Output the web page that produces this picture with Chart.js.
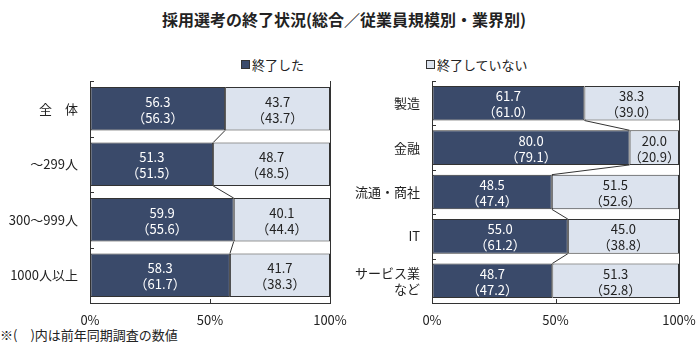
<!DOCTYPE html>
<html>
<head>
<meta charset="utf-8">
<script src="https://cdn.jsdelivr.net/npm/chart.js@4.4.1/dist/chart.umd.min.js"></script>
<style>
  html, body { margin:0; padding:0; background:#fff; }
  body { width:700px; height:356px; position:relative; overflow:hidden;
         font-family:"Noto Sans CJK JP", sans-serif; color:#222; }
  .abs { position:absolute; white-space:nowrap; }
  #title { left:0; width:688px; top:8px; text-align:center; font-size:16px; font-weight:bold; line-height:22px; }
  .leg { top:56px; font-size:13px; line-height:18px; }
  .mk { display:inline-block; width:7px; height:7px; border:1px solid #333; margin-right:2px; vertical-align:1px; }
  #foot { left:0; top:326px; font-size:13px; line-height:18px; }
  canvas { position:absolute; top:0; }
</style>
</head>
<body>
<div id="title" class="abs">採用選考の終了状況(総合／従業員規模別・業界別)</div>
<div class="abs leg" style="left:241px"><span class="mk" style="background:#3a4a6a"></span>終了した</div>
<div class="abs leg" style="left:426px"><span class="mk" style="background:#dce3ee"></span>終了していない</div>
<div id="foot" class="abs">※(　)内は前年同期調査の数値</div>
<canvas id="c1" width="350" height="356" style="left:0"></canvas>
<canvas id="c2" width="350" height="356" style="left:350px"></canvas>
<script>
// ---- data ----
const seriesNames = ['終了した', '終了していない'];
const leftCategories = ['全　体', '～299人', '300～999人', '1000人以上'];
const leftDone = [56.3, 51.3, 59.9, 58.3];
const leftNotDone = [43.7, 48.7, 40.1, 41.7];
const leftDonePrev = [56.3, 51.5, 55.6, 61.7];
const leftNotDonePrev = [43.7, 48.5, 44.4, 38.3];

const rightCategories = ['製造', '金融', '流通・商社', 'IT', ['サービス業', 'など']];
const rightDone = [61.7, 80.0, 48.5, 55.0, 48.7];
const rightNotDone = [38.3, 20.0, 51.5, 45.0, 51.3];
const rightDonePrev = [61.0, 79.1, 47.4, 61.2, 47.2];
const rightNotDonePrev = [39.0, 20.9, 52.6, 38.8, 52.8];

const xTicks = [0, 50, 100];

// ---- styles ----
const DARK = '#3a4a6a';
const LIGHT = '#dce3ee';
const EDGE = '#333333';
const NUMFONT = '"Liberation Sans Narrow", "Noto Sans CJK JP", sans-serif';
const JPFONT = '"Noto Sans CJK JP", sans-serif';

const extras = {
  id: 'extras',
  afterDatasetsDraw(chart) {
    const ctx = chart.ctx;
    const area = chart.chartArea;
    const xs = chart.scales.x, ys = chart.scales.y;
    const m0 = chart.getDatasetMeta(0);
    ctx.save();
    ctx.strokeStyle = EDGE; ctx.lineWidth = 1;
    for (let i = 0; i < m0.data.length - 1; i++) {
      const a = m0.data[i], b = m0.data[i + 1];
      ctx.beginPath();
      ctx.moveTo(a.x, a.y + a.height / 2);
      ctx.lineTo(b.x, b.y - b.height / 2);
      ctx.stroke();
    }
    const n = chart.data.labels.length;
    for (let i = 0; i <= n; i++) {
      const py = Math.round(ys.getPixelForValue(i - 0.5)) + 0.5;
      ctx.beginPath(); ctx.moveTo(area.left, py); ctx.lineTo(area.left + 4, py); ctx.stroke();
    }
    xTicks.forEach(v => {
      const px = Math.round(xs.getPixelForValue(v)) + 0.5;
      ctx.beginPath(); ctx.moveTo(px, area.bottom); ctx.lineTo(px, area.bottom - 4); ctx.stroke();
    });
    ctx.textAlign = 'center'; ctx.textBaseline = 'middle';
    chart.data.datasets.forEach((ds, di) => {
      const meta = chart.getDatasetMeta(di);
      ctx.fillStyle = di === 0 ? '#ffffff' : '#222222';
      meta.data.forEach((el, i) => {
        const cx = (el.x + el.base) / 2;
        ctx.font = '13px ' + NUMFONT;
        ctx.fillText(ds.data[i].toFixed(1), cx, el.y - 7);
        ctx.fillText('（' + ds.prev[i].toFixed(1) + '）', cx, el.y + 9);
      });
    });
    ctx.restore();
  }
};

function makeChart(id, labels, done, notDone, donePrev, notDonePrev, yWidth, rightPad) {
  return new Chart(document.getElementById(id), {
    type: 'bar',
    data: {
      labels: labels,
      datasets: [
        { label: seriesNames[0], data: done, prev: donePrev, backgroundColor: DARK,
          borderColor: EDGE, borderWidth: 1, borderSkipped: false,
          barPercentage: 0.78, categoryPercentage: 1 },
        { label: seriesNames[1], data: notDone, prev: notDonePrev, backgroundColor: LIGHT,
          borderColor: EDGE, borderWidth: 1, borderSkipped: false,
          barPercentage: 0.78, categoryPercentage: 1 }
      ]
    },
    options: {
      indexAxis: 'y',
      responsive: false,
      animation: false,
      devicePixelRatio: 1,
      layout: { padding: { top: 81, right: rightPad, bottom: 0, left: 0 } },
      plugins: { legend: { display: false }, tooltip: { enabled: false }, title: { display: false } },
      scales: {
        x: {
          stacked: true, min: 0, max: 100,
          afterBuildTicks: s => { s.ticks = xTicks.map(v => ({ value: v })); },
          afterFit: s => { s.height = 53; s.paddingRight = 0; },
          ticks: { callback: v => v + '%', padding: 9, color: '#222',
                   font: { size: 13, family: NUMFONT }, maxRotation: 0 },
          grid: { drawTicks: false,
                  color: c => (c.tick && c.tick.value === 100) ? EDGE : 'rgba(0,0,0,0)' },
          border: { display: true, color: EDGE }
        },
        y: {
          stacked: true,
          afterFit: s => { s.width = yWidth; },
          ticks: { padding: 12, color: '#222', font: { size: 13, family: JPFONT } },
          grid: { drawTicks: false, color: 'rgba(0,0,0,0)' },
          border: { display: true, color: EDGE }
        }
      }
    },
    plugins: [extras]
  });
}

makeChart('c1', leftCategories, leftDone, leftNotDone, leftDonePrev, leftNotDonePrev, 90, 20);
makeChart('c2', rightCategories, rightDone, rightNotDone, rightDonePrev, rightNotDonePrev, 82, 21);
</script>
</body>
</html>
